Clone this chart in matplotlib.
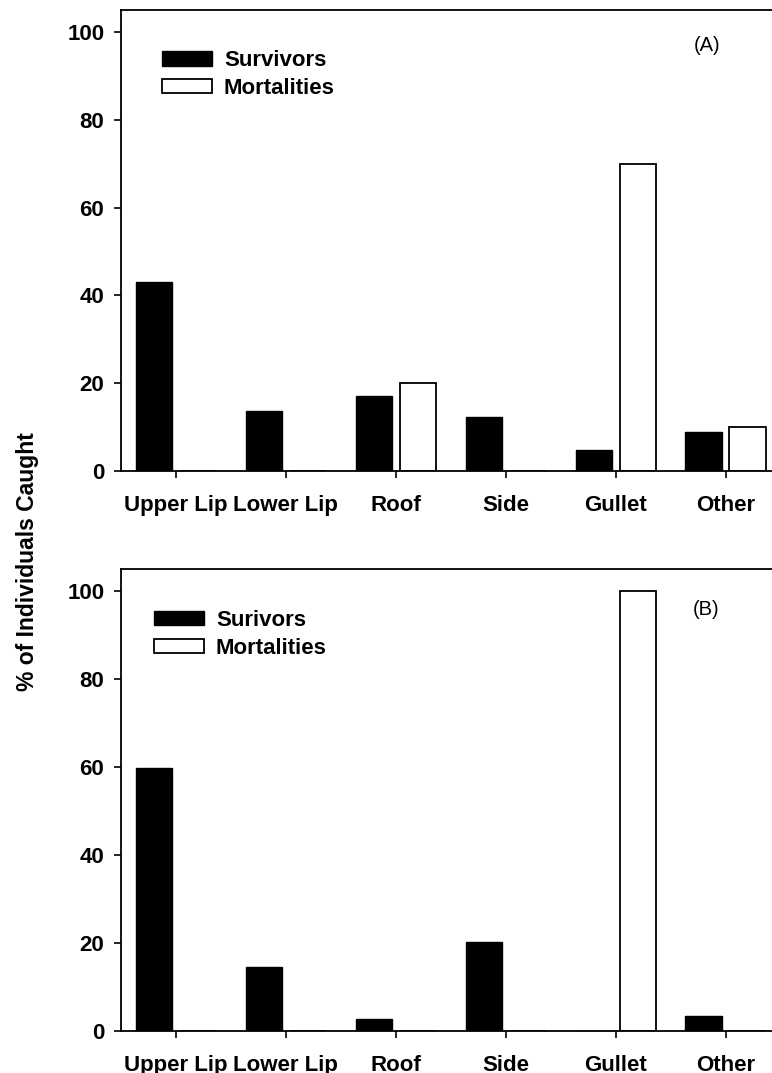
import numpy as np
import matplotlib
matplotlib.use("Agg")
import matplotlib.pyplot as plt

plt.rcParams["font.family"] = ["Liberation Sans", "DejaVu Sans"]

categories = ["Upper Lip", "Lower Lip", "Roof", "Side", "Gullet", "Other"]

# panel A
a_survivors = [43.1, 13.7, 17.1, 12.4, 4.9, 9.0]
a_mortalities = [0, 0, 20, 0, 70, 10]
# panel B
b_survivors = [59.7, 14.4, 2.7, 20.2, 0, 3.4]
b_mortalities = [0, 0, 0, 0, 100, 0]

panels = [
    ("(A)", "Survivors", a_survivors, a_mortalities, (0.888, 0.924), (0.062, 0.913)),
    ("(B)", "Surivors", b_survivors, b_mortalities, (0.887, 0.912), (0.050, 0.912)),
]

fig = plt.figure(figsize=(7.72, 10.73), dpi=100)
# right spine falls just outside the figure, like the reference crop
positions = [[0.1567, 0.5610, 0.8544, 0.4297],
             [0.1567, 0.0394, 0.8544, 0.4300]]

x = np.arange(len(categories))
w = 0.33
off = 0.2

for pos, (tag, surv_label, surv, mort, tag_xy, leg_xy) in zip(positions, panels):
    ax = fig.add_axes(pos)
    ax.bar(x - off, surv, w, color="black", edgecolor="black", linewidth=1.0,
           label=surv_label)
    ax.bar(x + off, mort, w, color="white", edgecolor="black", linewidth=1.3,
           label="Mortalities")
    ax.set_xlim(-0.5, 5.5)
    ax.set_ylim(0, 105)
    ax.set_yticks([0, 20, 40, 60, 80, 100])
    ax.set_xticks(x)
    ax.set_xticklabels(categories)
    for lbl in ax.get_xticklabels() + ax.get_yticklabels():
        lbl.set_fontweight("bold")
        lbl.set_fontsize(16)
    ax.tick_params(direction="out", length=5, width=1.2)
    ax.tick_params(axis="y", pad=7)
    ax.tick_params(axis="x", pad=12.5)
    for s in ax.spines.values():
        s.set_linewidth(1.3)
    ax.text(tag_xy[0], tag_xy[1], tag, transform=ax.transAxes, fontsize=14.5,
            ha="center", va="center")
    ax.legend(loc="upper left", bbox_to_anchor=leg_xy, frameon=False,
              handlelength=2.25, handleheight=0.63, handletextpad=0.54,
              labelspacing=0.31, borderaxespad=0, borderpad=0,
              prop={"weight": "bold", "size": 16})

fig.text(0.035, 0.477, "% of Individuals Caught", rotation=90, fontsize=16.5,
         fontweight="bold", ha="center", va="center")

fig.savefig("out.png", dpi=100)
